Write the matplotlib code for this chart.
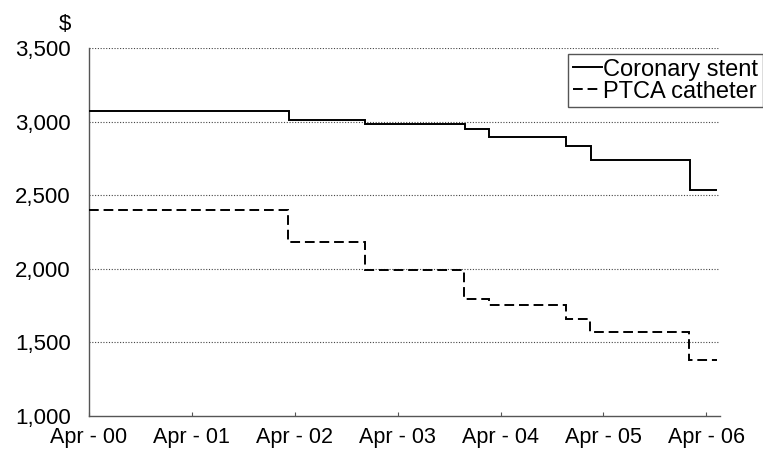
import matplotlib
matplotlib.use("Agg")
import matplotlib.pyplot as plt

plt.rcParams['font.family'] = ['Liberation Sans', 'DejaVu Sans']

# months after April 2000 where each price level begins (last value = end of data)
stent_months = [0, 23.3, 32.2, 43.8, 46.7, 55.6, 58.5, 70.1, 73.2]
stent_prices = [3075, 3008, 2985, 2948, 2895, 2831, 2737, 2537]

ptca_months = [0, 23.2, 32.2, 43.7, 46.6, 55.6, 58.4, 70.0, 73.2]
ptca_prices = [2400, 2180, 1992, 1796, 1757, 1658, 1570, 1378]

tick_months = [0, 12, 24, 36, 48, 60, 72]
tick_labels = ["Apr - 00", "Apr - 01", "Apr - 02", "Apr - 03", "Apr - 04", "Apr - 05", "Apr - 06"]
y_ticks = [1000, 1500, 2000, 2500, 3000, 3500]

fig = plt.figure(figsize=(7.63, 4.5), dpi=100)
ax = fig.add_axes([89/763, 1-416/450, (720-89)/763, (416-48)/450])

ax.stairs(stent_prices, stent_months, color='black', lw=1.4, baseline=None,
          label='Coronary stent', zorder=3)
ax.stairs(ptca_prices, ptca_months, color='black', lw=1.4, baseline=None,
          linestyle=(0, (5, 2.5)), label='PTCA catheter', zorder=3)

ax.set_xlim(0, 73.6)
ax.set_ylim(1000, 3500)
ax.set_yticks(y_ticks)
ax.set_yticklabels([f"{v:,}" for v in y_ticks])
ax.set_xticks(tick_months)
ax.set_xticklabels(tick_labels)

for v in y_ticks[1:]:
    ax.axhline(v, color='#444444', lw=0.8, linestyle=(0, (1, 1.5)), zorder=1)

for s in ['top', 'right']:
    ax.spines[s].set_visible(False)
for s in ['left', 'bottom']:
    ax.spines[s].set_color('#555555')
    ax.spines[s].set_linewidth(1.0)

ax.tick_params(axis='y', length=0, pad=13, labelsize=16)
ax.tick_params(axis='x', direction='in', length=3, width=0.8, color='#555555',
               pad=8, labelsize=15.5)

fig.text(71/763, 1-25/450, "$", ha='right', va='center', fontsize=16)

leg = ax.legend(loc='upper right', bbox_to_anchor=(1.0, 1-54/450),
                bbox_transform=fig.transFigure, borderaxespad=0,
                fontsize=17, handlelength=1.25, handletextpad=0.05,
                labelspacing=0.0, borderpad=0.2, fancybox=False,
                frameon=True, framealpha=1)
leg.get_frame().set_edgecolor('#555555')
leg.get_frame().set_linewidth(1.0)

fig.savefig("out.png", dpi=100)
